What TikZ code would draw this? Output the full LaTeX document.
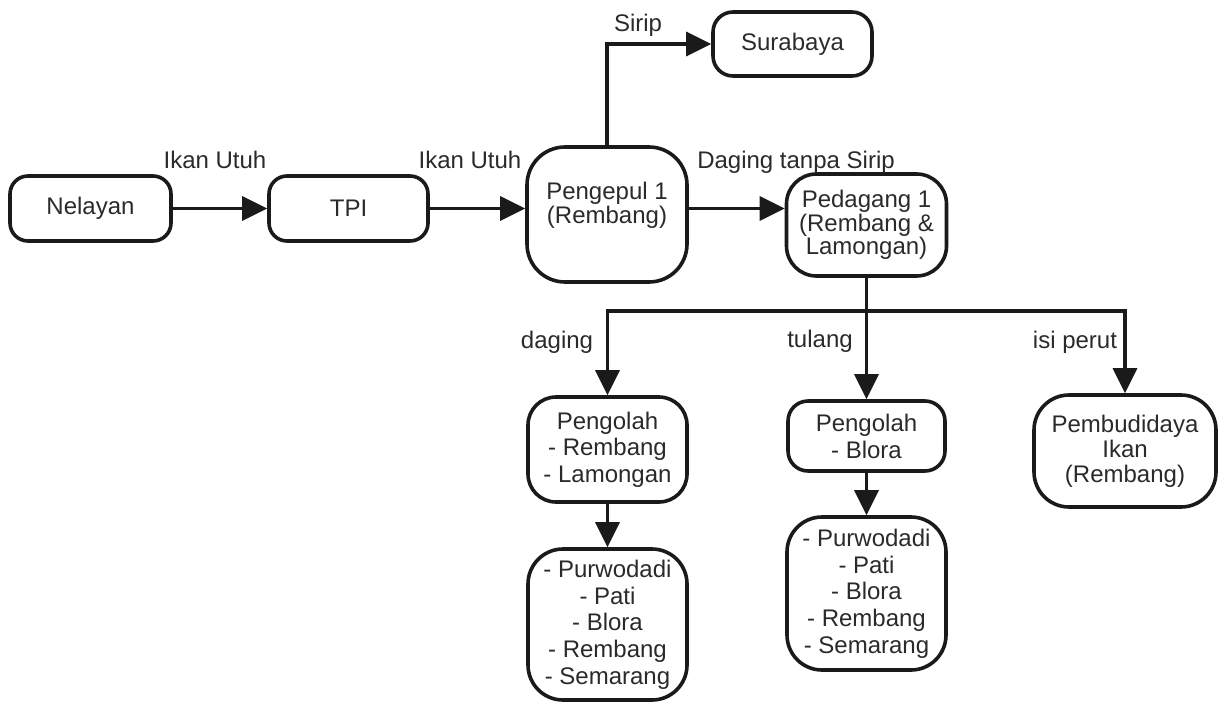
\documentclass[tikz,border=0pt]{standalone}
\usepackage{fontspec}
\setmainfont{Liberation Sans}
\usetikzlibrary{arrows.meta}
\definecolor{ink}{HTML}{1A1A1A}
\definecolor{txt}{HTML}{2A2A2A}
\tikzset{
  box/.style={draw=ink, line width=3.6pt, align=center, inner sep=0pt, text=txt,
    font=\fontsize{24}{26}\selectfont},
  lbl/.style={inner sep=0pt, text=txt, font=\fontsize{24}{26}\selectfont},
  arr/.style={draw=ink, line width=3.4pt, -{Triangle[length=25pt,width=24pt]}},
  ln/.style={draw=ink, line width=3.4pt},
}
\begin{document}
\begin{tikzpicture}[x=1pt,y=-1pt]
\useasboundingbox (0,0) rectangle (1222,701);
% boxes
\node[box, minimum width=161pt, minimum height=65pt, rounded corners=18pt] (nelayan) at (90.5,208.5) {Nelayan};
\node[box, minimum width=159pt, minimum height=65pt, rounded corners=18pt] (tpi) at (348.5,208.5) {TPI};
\node[box, minimum width=160pt, minimum height=135pt, rounded corners=38pt] (pengepul) at (607,214.5) {};
\node[lbl, align=center, font=\fontsize{24}{24}\selectfont] (pengepultxt) at (607,205) {Pengepul 1\\(Rembang)};
\node[box, minimum width=159pt, minimum height=64pt, rounded corners=20pt] (surabaya) at (792.5,44) {Surabaya};
\node[box, minimum width=160pt, minimum height=102pt, rounded corners=30pt, font=\fontsize{24}{23.5}\selectfont] (pedagang) at (866.5,225) {Pedagang 1\\(Rembang \&\\Lamongan)};
\node[box, minimum width=159pt, minimum height=105pt, rounded corners=28pt, font=\fontsize{24}{26.5}\selectfont] (olahA) at (607.5,449.5) {Pengolah\\- Rembang\\- Lamongan};
\node[box, minimum width=157pt, minimum height=70pt, rounded corners=20pt, font=\fontsize{24}{27}\selectfont] (olahB) at (866.5,436) {Pengolah\\- Blora};
\node[box, minimum width=182pt, minimum height=112pt, rounded corners=35pt, font=\fontsize{24}{25}\selectfont] (budidaya) at (1125,451) {Pembudidaya\\Ikan\\(Rembang)};
\node[box, minimum width=159pt, minimum height=151pt, rounded corners=35pt, font=\fontsize{24}{26.7}\selectfont] (kotaA) at (607.5,624.5) {- Purwodadi\\- Pati\\- Blora\\- Rembang\\- Semarang};
\node[box, minimum width=159pt, minimum height=153pt, rounded corners=35pt, font=\fontsize{24}{26.7}\selectfont] (kotaB) at (866.5,593.5) {- Purwodadi\\- Pati\\- Blora\\- Rembang\\- Semarang};
% labels
\node[lbl] (l1) at (215,160) {Ikan Utuh};
\node[lbl] (l2) at (470,160) {Ikan Utuh};
\node[lbl] (l3) at (638,25) {Sirip};
\node[lbl] (l4) at (796,162) {Daging tanpa Sirip};
\node[lbl] (l5) at (557,342) {daging};
\node[lbl] (l6) at (820,341) {tulang};
\node[lbl] (l7) at (1075,342) {isi perut};
% connectors
\coordinate (split) at (866.5,311);
\draw[arr] (nelayan.east) -- (tpi.west);
\draw[arr] (tpi.east) -- (tpi.east -| pengepul.west);
\draw[arr] (pengepul.east |- tpi.east) -- (pedagang.west |- tpi.east);
\draw[arr] (pengepul.north) |- (surabaya.west);
\draw[arr] (pedagang.south) -- (olahB.north);
\draw[arr] (split) -| (olahA.north);
\draw[arr] (split) -| (budidaya.north);
\draw[arr] (olahA.south) -- (kotaA.north);
\draw[arr] (olahB.south) -- (kotaB.north);
\end{tikzpicture}
\end{document}
